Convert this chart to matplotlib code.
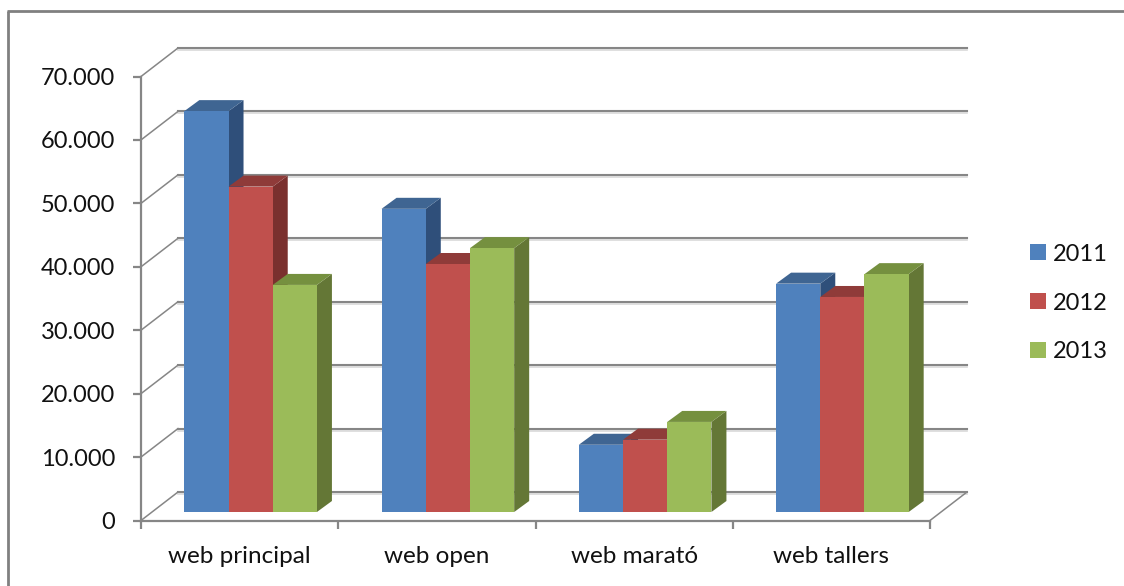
import numpy as np
import matplotlib
matplotlib.use("Agg")
import matplotlib.pyplot as plt
from matplotlib.lines import Line2D
from matplotlib.patches import Patch

plt.rcParams['font.family'] = ['Lato', 'DejaVu Sans']

categories = ["web principal", "web open", "web marató", "web tallers"]
years = ["2011", "2012", "2013"]
values_2011 = [63200, 47800, 10600, 36000]
values_2012 = [51300, 39100, 11400, 33900]
values_2013 = [35800, 41600, 14200, 37500]
y_ticks = [0, 10000, 20000, 30000, 40000, 50000, 60000, 70000]
y_labels = ["0", "10.000", "20.000", "30.000", "40.000", "50.000", "60.000", "70.000"]

W, H = 1124, 586
GRID = "#868686"
front_cols = ["#4F81BD", "#C0504D", "#9BBB59"]
top_cols = ["#3F6592", "#8F3B39", "#75903F"]
side_cols = ["#2F4F7A", "#7A302E", "#647736"]

fig = plt.figure(figsize=(W / 100, H / 100), dpi=100)
ax = fig.add_axes([141 / W, 1 - 520.5 / H, 789 / W, 444 / H])
ax.set_xlim(0, 4)
ax.set_ylim(0, 70000)

# oblique depth, in data units
px_x = 4 / 789
px_y = 70000 / 444
wall_dx, wall_dy = 37 * px_x, 28.5 * px_y
bar_dx, bar_dy = 15 * px_x, 11 * px_y
off_x, off_y = 11 * px_x, 8.5 * px_y
bar_w = 44.2 * px_x

# walls
for v in y_ticks:
    ax.plot([0, wall_dx], [v, v + wall_dy], color=GRID, lw=1.1, clip_on=False, zorder=1)
    ax.plot([wall_dx, 4 + wall_dx], [v + wall_dy, v + wall_dy], color=GRID,
            lw=1.5, clip_on=False, zorder=1)
    ax.plot([wall_dx, 4 + wall_dx], [v + wall_dy - 2 * px_y] * 2, color="#D9D9D9",
            lw=1.2, clip_on=False, zorder=0.5)
ax.plot([4, 4 + wall_dx], [0, wall_dy], color=GRID, lw=1.1, clip_on=False, zorder=1)

# bars, left to right so each one covers the side of the one before
series = [values_2011, values_2012, values_2013]
for c in range(len(categories)):
    start = c + 0.5 - 1.5 * bar_w + off_x
    for s in range(3):
        v = series[s][c]
        x0 = start + s * bar_w
        x1 = x0 + bar_w
        y0 = off_y
        y1 = off_y + v
        ax.fill([x1, x1 + bar_dx, x1 + bar_dx, x1], [y0, y0 + bar_dy, y1 + bar_dy, y1],
                color=side_cols[s], lw=0, clip_on=False, zorder=3)
        ax.fill([x0, x1, x1 + bar_dx, x0 + bar_dx], [y1, y1, y1 + bar_dy, y1 + bar_dy],
                color=top_cols[s], lw=0, clip_on=False, zorder=3)
        ax.fill([x0, x1, x1, x0], [y0, y0, y1, y1],
                color=front_cols[s], lw=0, clip_on=False, zorder=3)

for side in ["top", "right"]:
    ax.spines[side].set_visible(False)
for side in ["left", "bottom"]:
    ax.spines[side].set_color(GRID)
    ax.spines[side].set_linewidth(1.6)
    ax.spines[side].set_zorder(4)
ax.patch.set_visible(False)

ax.set_yticks(y_ticks, y_labels)
ax.tick_params(axis="y", direction="out", length=6, width=1.6, color=GRID, labelsize=17,
               pad=12.5, labelcolor="#111111")
ax.set_xticks(range(5), [""] * 5)
ax.set_xticks(np.arange(4) + 0.5, categories, minor=True)
ax.tick_params(axis="x", which="major", direction="out", length=6, width=1.6, color=GRID)
ax.tick_params(axis="x", which="minor", length=0, labelsize=17.5, pad=18.5, labelcolor="#111111")

handles = [Patch(color=front_cols[i], lw=0, label=years[i]) for i in range(3)]
fig.legend(handles=handles, loc="center left", bbox_to_anchor=(1030 / W, 1 - 303 / H),
           frameon=False, fontsize=17, borderpad=0, borderaxespad=0, handlelength=0.68,
           handleheight=0.64, handletextpad=0.3, labelspacing=1.185, labelcolor="#111111")

# outer frame
frame = dict(color="#808080", lw=2, transform=fig.transFigure, solid_capstyle="butt")
fig.add_artist(Line2D([8 / W, 8 / W], [0, 1 - 11 / H], **frame))
fig.add_artist(Line2D([7 / W, 1], [1 - 11 / H, 1 - 11 / H], **frame))

fig.savefig("out.png", dpi=100)
